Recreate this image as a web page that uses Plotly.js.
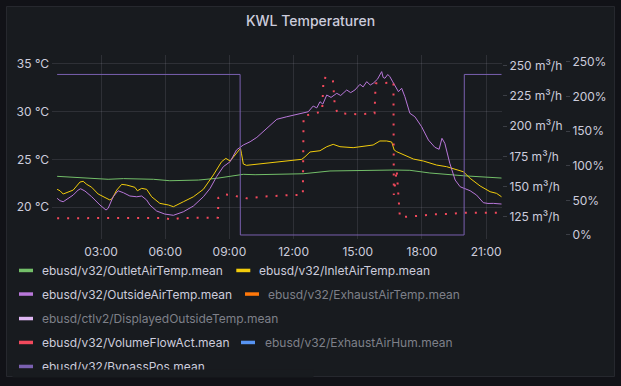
<!DOCTYPE html>
<html>
<head>
<meta charset="utf-8">
<script src="https://cdn.plot.ly/plotly-3.0.1.min.js"></script>
<style>
  html, body { margin: 0; padding: 0; background: #111217; }
  #chart { width: 621px; height: 386px; }
</style>
</head>
<body>
<div id="chart"></div>
<script>
// ---------------- data ----------------
const day = '2024-06-15 ';

const outletTime = ['00:57','02:10','03:20','04:03','05:27','06:13','07:33','08:24','09:02','09:39','10:12','12:27','13:42','15:15','16:40','17:26','18:22','19:56','21:11','21:43'];
const outletTemp = [23.24,23.1,22.93,23.0,22.93,22.78,22.85,23.03,23.27,23.45,23.41,23.51,23.8,23.87,23.9,23.87,23.59,23.3,23.17,23.06];

const inletTime = ['00:57','01:05','01:14','01:28','01:42','02:01','02:10','02:20','02:34','02:52','03:11','03:25','03:32','03:44','03:58','04:12','04:35','04:42','04:54','05:08','05:22','05:45','06:09','06:23','06:51','07:19','07:47','08:15','08:38','08:50','09:02','09:20','09:31','09:34','09:39','09:48','10:35','11:36','12:23','12:32','12:46','13:14','13:33','13:51','14:10','14:47','15:15','15:43','16:02','16:21','16:35','16:42','16:49','17:17','17:36','18:04','18:41','19:09','19:37','19:56','20:15','20:43','21:11','21:29','21:43'];
const inletTemp = [21.88,21.73,21.39,21.6,21.8,22.64,22.72,22.4,22.09,21.39,21.04,20.76,20.94,21.8,22.4,22.33,22.09,21.73,21.98,21.88,21.1,20.41,20.24,20.06,20.58,21.1,21.88,23.38,24.77,25.12,24.84,25.71,26.17,25.6,24.53,24.39,24.56,24.84,25.02,25.29,25.79,25.92,26.34,26.59,26.34,26.24,26.41,26.52,26.94,26.94,26.83,26.0,25.82,25.37,25.05,24.84,24.42,24.25,23.9,23.72,23.03,22.23,21.63,21.46,21.1];

const outsideTime = ['00:57','01:05','01:14','01:28','01:42','01:56','02:03','02:15','02:34','02:57','03:14','03:20','03:34','03:48','04:03','04:21','04:40','04:54','05:08','05:17','05:36','05:59','06:23','06:51','07:19','07:47','08:06','08:24','08:43','09:02','09:20','09:39','09:58','10:17','10:35','10:54','11:13','11:41','12:18','12:41','12:55','13:05','13:14','13:22','13:33','13:45','14:01','14:12','14:29','14:40','14:52','15:06','15:15','15:25','15:35','15:43','15:55','16:07','16:11','16:16','16:24','16:30','16:37','16:44','16:54','17:03','17:12','17:26','17:40','17:59','18:18','18:36','18:48','18:56','19:04','19:18','19:33','19:47','20:01','20:15','20:33','20:52','21:05','21:20','21:43'];
const outsideTemp = [20.94,20.69,20.58,20.94,21.28,21.81,21.94,21.7,21.1,20.24,19.71,19.89,21.1,21.73,21.52,21.18,21.1,21.18,20.76,20.24,19.61,19.29,19.16,19.53,20.13,21.1,21.98,23.2,24.25,24.77,26.0,26.52,26.86,27.32,27.91,28.6,29.21,29.48,29.76,30.0,30.6,30.4,31.05,30.8,31.75,31.5,31.93,31.7,32.28,32.0,32.28,32.87,32.6,33.15,32.8,32.98,33.4,34.2,33.6,33.5,33.9,33.67,33.2,32.8,32.1,32.46,31.58,29.84,29.48,28.43,27.04,26.28,26.07,27.22,26.7,24.6,22.85,22.15,21.98,21.73,21.28,20.48,20.4,20.41,20.34];

const flowTime = ['00:57','02:57','05:59','06:18','06:42','08:28','08:29','08:43','09:02','09:48','10:35','11:55','12:26','12:28','13:09','13:20','13:24','13:50','13:56','14:05','15:01','15:47','15:50','16:24','16:40','16:41','16:49','16:58','17:45','18:34','19:21','19:47','21:43'];
const flowValue = [123.7,124.0,124.0,122.3,123.9,124.2,140.7,143.5,143.0,140.2,141.6,143.0,143.0,208.4,211.1,212.0,240.1,239.0,215.2,210.6,209.8,210.6,235.4,235.9,236.8,143.0,164.0,124.5,125.6,127.0,127.2,128.3,128.3];

const bypassTime = ['00:57','09:30','09:30:40','19:58','19:58:40','21:43'];
const bypassValue = [232,232,0,0,232,232];

const legendLabels = ['ebusd/v32/OutletAirTemp.mean','ebusd/v32/InletAirTemp.mean','ebusd/v32/OutsideAirTemp.mean','ebusd/v32/ExhaustAirTemp.mean','ebusd/ctlv2/DisplayedOutsideTemp.mean','ebusd/v32/VolumeFlowAct.mean','ebusd/v32/ExhaustAirHum.mean','ebusd/v32/BypassPos.mean'];
const legendHidden = [false,false,false,true,true,false,true,false];

const tempTicks = [20,25,30,35];
const flowTicks = [125,150,175,200,225,250];
const pctTicks = [0,50,100,150,200,250];

// ---------------- styles / layout ----------------
const colors = {
  outlet:'#73BF69', inlet:'#F2CC0C', outside:'#B877D9', exhaust:'#FF780A',
  displayed:'#DEB6F2', flow:'#F2495C', hum:'#5794F2', bypass:'#7A60B0'
};
const legendColors = [colors.outlet,colors.inlet,colors.outside,colors.exhaust,colors.displayed,colors.flow,colors.hum,colors.bypass];
// legend slots in pixels: swatch x, text x, row centre y
const legendSlots = [
  {sx:19, tx:40, y:270.7},{sx:236.3, tx:257, y:270.7},
  {sx:19, tx:40, y:294.3},{sx:245, tx:266.3, y:294.3},
  {sx:19, tx:40, y:318.8},
  {sx:19, tx:40, y:342.7},{sx:241, tx:262.6, y:342.7},
  {sx:19, tx:40, y:366.7}
];

const W = 621, H = 386;
const L = 52, R = 56, T = 55, B = 147;
const PW = W - L - R, PH = H - T - B;
const pxX = p => (p - L) / PW;
const pxY = p => (T + PH - p) / PH;

const FONT = 'Inter, "Open Sans", sans-serif';
const TXT = '#ccccdc';
const DIM = '#7e8089';
const GRID = 'rgba(204,204,220,0.12)';
const PANEL = '#181b1f';

const ts = arr => arr.map(t => day + t);

const traces = [
  {x: ts(outletTime), y: outletTemp, yaxis:'y', mode:'lines', line:{color:colors.outlet, width:1}},
  {x: ts(inletTime), y: inletTemp, yaxis:'y', mode:'lines', line:{color:colors.inlet, width:1}},
  {x: ts(outsideTime), y: outsideTemp, yaxis:'y', mode:'lines', line:{color:colors.outside, width:1}},
  {x: ts(flowTime), y: flowValue, yaxis:'y2', mode:'lines', line:{color:colors.flow, width:2, dash:'2px,8px'}},
  {x: ts(bypassTime), y: bypassValue, yaxis:'y3', mode:'lines', line:{color:colors.bypass, width:1}}
];

const shapes = [
  {type:'rect', xref:'paper', yref:'paper', layer:'below',
   x0:pxX(6.5), x1:pxX(614.5), y0:pxY(376.5), y1:pxY(6.5),
   fillcolor:PANEL, line:{color:'#26282e', width:1}}
];
const annotations = [];
legendLabels.forEach((lab, i) => {
  const s = legendSlots[i];
  shapes.push({type:'rect', xref:'paper', yref:'paper', layer:'above',
    x0:pxX(s.sx), x1:pxX(s.sx + 14), y0:pxY(s.y + 1.5), y1:pxY(s.y - 2),
    fillcolor:legendColors[i], line:{width:0}});
  annotations.push({xref:'paper', yref:'paper', x:pxX(s.tx), y:pxY(s.y), xanchor:'left', yanchor:'middle',
    showarrow:false, text:lab, font:{family:FONT, size:12, color: legendHidden[i] ? DIM : TXT}});
});
// legend area is scrollable in the original: bottom row is clipped by the panel edge
annotations.push({xref:'paper', yref:'paper', x:pxX(12), y:pxY(369.3), xanchor:'left', yanchor:'top',
  showarrow:false, text:'\u00a0', width:300, height:7, borderpad:0, bgcolor:PANEL,
  font:{size:6, color:PANEL}});

const lab = (arr, suf) => arr.map(v => v + suf);

const layout = {
  width: W, height: H,
  margin: {l:L, r:R, t:T, b:B, pad:0},
  paper_bgcolor: '#111217',
  plot_bgcolor: 'rgba(0,0,0,0)',
  font: {family: FONT, size: 12, color: TXT},
  showlegend: false,
  title: {text:'KWL Temperaturen', x:0.5, xref:'container', xanchor:'center',
          y: 1 - 21/H, yref:'container', yanchor:'middle',
          font:{family:FONT, size:14, color:TXT, weight:500}},
  xaxis: {
    type:'date', domain:[0, 450/PW],
    range:[day + '00:42:36', day + '21:44:20'],
    tickformat:'%H:%M', dtick: 3*3600*1000, tick0: day + '00:00',
    showgrid:true, gridcolor:GRID, gridwidth:1, zeroline:false, showline:false,
    ticks:'', tickfont:{family:FONT, size:12, color:TXT}, ticklabelstandoff:4
  },
  yaxis: {
    range:[16.68, 35.94], tickmode:'array', tickvals: tempTicks, ticktext: lab(tempTicks, ' °C'),
    showgrid:true, gridcolor:GRID, zeroline:false, showline:false, ticks:'',
    tickfont:{family:FONT, size:12, color:TXT}, ticklabelstandoff:2
  },
  yaxis2: {
    overlaying:'y', side:'right', anchor:'x',
    range:[106.5, 258.9], tickmode:'array', tickvals: flowTicks, ticktext: lab(flowTicks, ' m³/h'),
    showgrid:false, zeroline:false, showline:false,
    ticks:'outside', ticklen:4, tickwidth:1, tickcolor:'#3b3e45',
    tickfont:{family:FONT, size:12, color:TXT}
  },
  yaxis3: {
    overlaying:'y', side:'right', anchor:'free', position:1,
    range:[-5.8, 260.1], tickmode:'array', tickvals: pctTicks, ticktext: lab(pctTicks, '%'),
    showgrid:false, zeroline:false, showline:false,
    ticks:'outside', ticklen:4, tickwidth:1, tickcolor:'#3b3e45',
    tickfont:{family:FONT, size:12, color:TXT}
  },
  shapes: shapes,
  annotations: annotations
};

Plotly.newPlot('chart', traces, layout, {staticPlot:true, displayModeBar:false});
</script>
</body>
</html>
